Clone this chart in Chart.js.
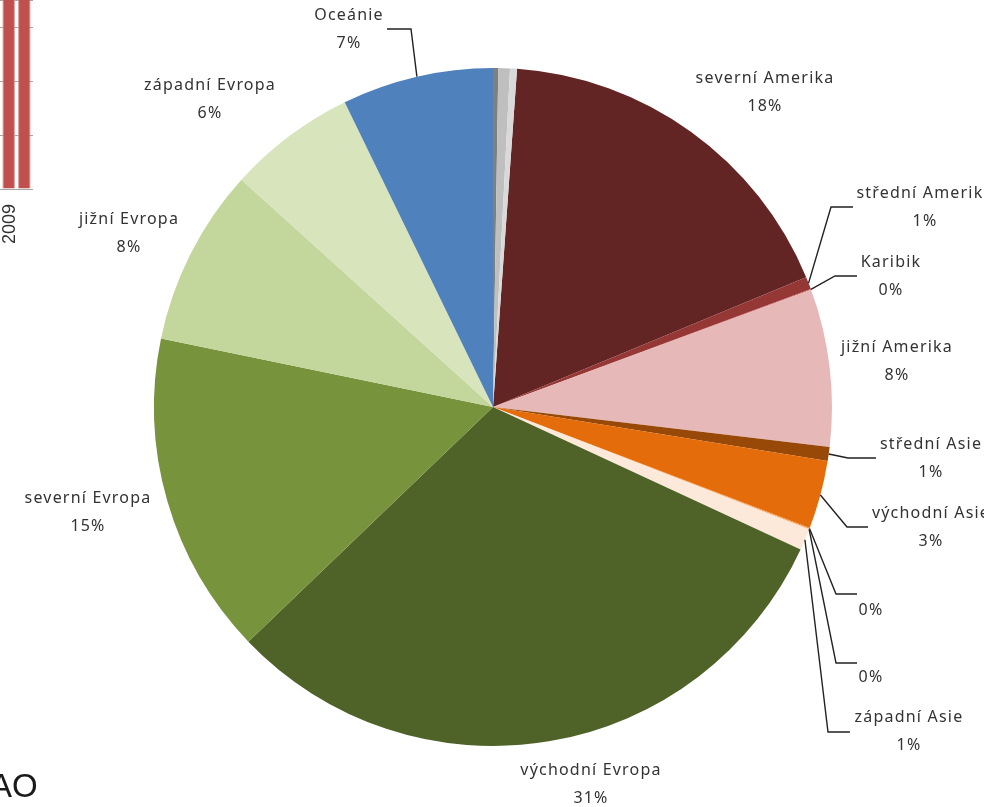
<!DOCTYPE html>
<html lang="cs">
<head>
<meta charset="utf-8">
<title>Graf</title>
<script src="https://cdn.jsdelivr.net/npm/chart.js@4"></script>
<style>
  html, body { margin: 0; padding: 0; background: #fff; overflow: hidden; width: 984px; height: 807px; }
  canvas { position: absolute; left: 0; top: 0; }
  #zdroj { position: absolute; left: -10px; top: 767px; font: 33px "Liberation Sans", sans-serif; color: #1a1a1a; }
</style>
</head>
<body>
<canvas id="sloupce" width="33" height="250"></canvas>
<canvas id="kolac" width="984" height="807"></canvas>
<div id="zdroj">AO</div>

<script>
// ---- data ----
const regiony = [
  "severní Amerika", "střední Amerika", "Karibik", "jižní Amerika",
  "střední Asie", "východní Asie", "", "", "západní Asie",
  "východní Evropa", "severní Evropa", "jižní Evropa", "západní Evropa", "Oceánie",
  "", "", ""
];
const podily = [17.6, 0.6, 0.03, 7.5, 0.67, 3.25, 0.05, 0.05, 1.0, 30.9, 15.4, 8.44, 6.1, 7.2, 0.25, 0.55, 0.33];
const barvy = [
  "#632523", "#953735", "#C0504D", "#E6B9B8",
  "#984807", "#E46C0A", "#F79646", "#FCD5B5", "#FDE9D9",
  "#4F6228", "#77933C", "#C3D69B", "#D8E4BC", "#4F81BD",
  "#7F7F7F", "#BFBFBF", "#D9D9D9"
];
const roky = ["2009"];
const sloupecA = [180];
const sloupecB = [190];

// popisky: index -> stred x, y nazvu, y procent, volitelne koleno a konec odkazu
const popisky = [
  { i: 0, x: 765, y: 78, py: 106 },
  { i: 1, x: 925, y: 193, py: 221, odkaz: [831, 207, 853, 207] },
  { i: 2, x: 891, y: 262, py: 290, odkaz: [835, 276, 857, 276] },
  { i: 3, x: 897, y: 347, py: 375 },
  { i: 4, x: 931, y: 444, py: 472, odkaz: [848, 458, 876, 458] },
  { i: 5, x: 931, y: 513, py: 541, odkaz: [847, 527, 868, 527] },
  { i: 6, x: 871, y: 610, py: 610, odkaz: [836, 594, 857, 594] },
  { i: 7, x: 871, y: 677, py: 677, odkaz: [836, 663, 857, 663] },
  { i: 8, x: 909, y: 717, py: 745, odkaz: [828, 732, 850, 732] },
  { i: 9, x: 591, y: 770, py: 798 },
  { i: 10, x: 88, y: 498, py: 526 },
  { i: 11, x: 129, y: 219, py: 247 },
  { i: 12, x: 210, y: 85, py: 113 },
  { i: 13, x: 349, y: 15, py: 43, odkaz: [411, 29, 387, 29] }
];

// ---- popisky a odkazy ----
const popiskyPlugin = {
  id: "popisky",
  afterDatasetsDraw(chart) {
    const ctx = chart.ctx;
    const oblouky = chart.getDatasetMeta(0).data;
    ctx.save();
    ctx.font = '16px "Noto Sans", sans-serif';
    ctx.letterSpacing = "1.2px";
    ctx.textAlign = "center";
    ctx.textBaseline = "middle";
    popisky.forEach(p => {
      if (p.odkaz) {
        const a = oblouky[p.i];
        const uhel = (a.startAngle + a.endAngle) / 2;
        ctx.beginPath();
        ctx.moveTo(a.x + Math.cos(uhel) * a.outerRadius, a.y + Math.sin(uhel) * a.outerRadius);
        ctx.lineTo(p.odkaz[0], p.odkaz[1]);
        ctx.lineTo(p.odkaz[2], p.odkaz[3]);
        ctx.strokeStyle = "#222";
        ctx.lineWidth = 1.4;
        ctx.stroke();
      }
      ctx.fillStyle = "#333";
      if (regiony[p.i]) ctx.fillText(regiony[p.i], p.x, p.y);
      ctx.fillText(Math.round(podily[p.i]) + "%", p.x, p.py);
    });
    ctx.restore();
  }
};

new Chart(document.getElementById("kolac"), {
  type: "pie",
  data: {
    labels: regiony,
    datasets: [{ data: podily, backgroundColor: barvy, borderWidth: 0 }]
  },
  options: {
    responsive: false,
    animation: false,
    rotation: 4.07,
    layout: { padding: { left: 154, right: 152, top: 68, bottom: 61 } },
    plugins: { legend: { display: false }, tooltip: { enabled: false } },
    events: []
  },
  plugins: [popiskyPlugin]
});

// ---- zbytek sloupcoveho grafu vlevo ----
new Chart(document.getElementById("sloupce"), {
  type: "bar",
  data: {
    labels: roky,
    datasets: [
      { data: sloupecA, backgroundColor: "#C0504D", borderColor: "#D99694", borderWidth: 1 },
      { data: sloupecB, backgroundColor: "#C0504D", borderColor: "#D99694", borderWidth: 1 }
    ]
  },
  options: {
    responsive: false,
    animation: false,
    layout: { padding: 0 },
    datasets: { bar: { categoryPercentage: 0.95, barPercentage: 0.8 } },
    plugins: { legend: { display: false }, tooltip: { enabled: false } },
    events: [],
    scales: {
      x: {
        grid: { display: false },
        border: { color: "#A6A6A6", width: 1 },
        afterFit: s => { s.height = 61; s.paddingLeft = 0; s.paddingRight = 0; },
        ticks: { minRotation: 90, maxRotation: 90, labelOffset: -6, padding: 7, color: "#333", font: { family: "Liberation Sans", size: 18 } }
      },
      y: {
        min: 0,
        max: 175,
        display: true,
        afterFit: s => { s.width = 0; s.paddingTop = 0; s.paddingBottom = 0; },
        ticks: { display: false, stepSize: 50 },
        border: { display: false },
        grid: { color: "#A6A6A6", drawTicks: false }
      }
    }
  }
});
</script>
</body>
</html>
